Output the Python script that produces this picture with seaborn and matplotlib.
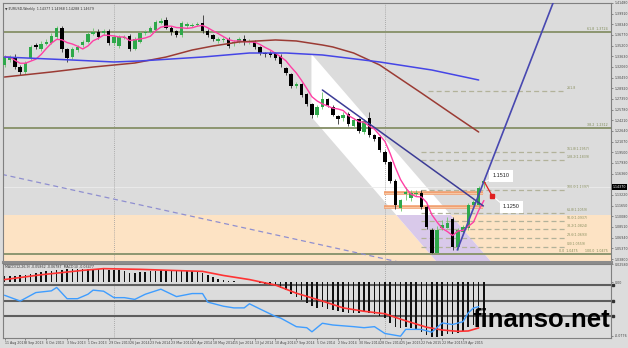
import numpy as np
import pandas as pd
import matplotlib
matplotlib.use("Agg")
import matplotlib.pyplot as plt
from matplotlib.patches import Polygon, Rectangle
import seaborn as sns

# ---------------- data (EURUSD weekly) ----------------
opens = [1.3234,1.3307,1.3351,1.3204,1.3131,1.3337,1.3528,1.3469,1.3543,1.3557,
         1.3646,1.3778,1.3469,1.3351,1.3454,1.3528,1.3572,1.3690,1.3720,1.3705,
         1.3734,1.3557,1.3513,1.3631,1.3661,1.3469,1.3572,1.3705,1.3720,1.3749,
         1.3852,1.3896,1.3778,1.3734,1.3675,1.3808,1.3808,1.3822,1.3852,1.3734,
         1.3675,1.3587,1.3602,1.3616,1.3557,1.3572,1.3616,1.3572,1.3572,1.3499,
         1.3410,1.3410,1.3410,1.3366,1.3190,1.3101,1.2925,1.2954,1.2807,1.2660,
         1.2499,1.2616,1.2734,1.2616,1.2484,1.2455,1.2513,1.2337,1.2440,1.2249,
         1.2455,1.2205,1.2176,1.1955,1.1808,1.1528,1.1130,1.1336,1.1277,1.1336,
         1.1351,1.1145,1.0807,1.0469,1.0836,1.0836,1.0968,1.0557,1.0777,1.0836,
         1.1175,1.1175,1.1499]
closes = [1.3351,1.3351,1.3204,1.3131,1.3263,1.3499,1.3499,1.3543,1.3572,1.3661,
          1.3778,1.3469,1.3337,1.3469,1.3499,1.3572,1.3690,1.3720,1.3646,1.3734,
          1.3557,1.3646,1.3646,1.3646,1.3469,1.3616,1.3705,1.3720,1.3778,1.3867,
          1.3881,1.3778,1.3720,1.3675,1.3852,1.3837,1.3822,1.3837,1.3734,1.3675,
          1.3616,1.3616,1.3616,1.3513,1.3572,1.3616,1.3572,1.3587,1.3499,1.3410,
          1.3396,1.3381,1.3337,1.3249,1.3116,1.2925,1.2954,1.2793,1.2660,1.2499,
          1.2616,1.2734,1.2646,1.2499,1.2440,1.2499,1.2367,1.2425,1.2264,1.2411,
          1.2205,1.2146,1.1984,1.1808,1.1528,1.1175,1.1248,1.1366,1.1351,1.1351,
          1.1145,1.0851,1.0469,1.0807,1.0880,1.0909,1.0557,1.0807,1.0851,1.1175,
          1.1219,1.1425,1.1528]
highs = [1.338,1.338,1.339,1.323,1.329,1.353,1.356,1.358,1.361,1.370,
         1.381,1.381,1.348,1.350,1.353,1.360,1.372,1.378,1.376,1.377,
         1.377,1.368,1.368,1.367,1.369,1.364,1.373,1.375,1.381,1.390,
         1.393,1.394,1.380,1.375,1.388,1.386,1.385,1.386,1.397,1.376,
         1.369,1.364,1.364,1.364,1.360,1.365,1.367,1.361,1.360,1.352,
         1.343,1.344,1.343,1.339,1.321,1.312,1.298,1.297,1.282,1.268,
         1.264,1.284,1.275,1.264,1.250,1.254,1.254,1.245,1.246,1.244,
         1.254,1.222,1.220,1.198,1.182,1.155,1.127,1.144,1.140,1.140,
         1.139,1.117,1.083,1.086,1.096,1.100,1.100,1.083,1.088,1.120,
         1.125,1.145,1.153]
lows = [1.320,1.328,1.317,1.308,1.310,1.331,1.347,1.344,1.353,1.354,
        1.362,1.343,1.328,1.332,1.343,1.350,1.355,1.367,1.362,1.368,
        1.353,1.353,1.349,1.361,1.344,1.345,1.355,1.368,1.370,1.372,
        1.384,1.376,1.368,1.365,1.365,1.378,1.379,1.380,1.371,1.365,
        1.358,1.355,1.357,1.348,1.352,1.355,1.353,1.354,1.347,1.338,
        1.335,1.335,1.330,1.321,1.308,1.289,1.290,1.276,1.263,1.246,
        1.247,1.259,1.262,1.248,1.236,1.241,1.234,1.231,1.223,1.222,
        1.218,1.212,1.196,1.178,1.150,1.111,1.108,1.125,1.124,1.131,
        1.111,1.082,1.0462,1.0466,1.080,1.083,1.051,1.051,1.076,1.081,
        1.117,1.112,1.142]

# long moving averages
brown_idx = [0, 9, 17, 25, 31, 36, 40, 45, 52, 56, 61, 63, 67, 72, 80, 87, 91]
brown_val = [1.3057, 1.3131, 1.3204, 1.3263, 1.3351, 1.3454, 1.3513, 1.3572, 1.3602,
             1.3587, 1.3528, 1.3499, 1.3410, 1.3234, 1.2822, 1.2455, 1.2248]
blue_idx = [0, 13, 21, 26, 38, 47, 54, 61, 72, 82, 91]
blue_val = [1.3351, 1.3307, 1.3278, 1.3293, 1.3351, 1.3410, 1.3410, 1.3381, 1.3278, 1.3160, 1.3013]

# MACD panel
macd_hist = [0.0084,0.0084,0.0089,0.0094,0.0104,0.0118,0.0133,0.0143,0.0153,0.0162,
             0.0172,0.0177,0.0182,0.0182,0.0187,0.0192,0.0192,0.0192,0.0192,0.0187,
             0.0177,0.0172,0.0167,0.0153,0.0133,0.0133,0.0138,0.0148,0.0153,0.0157,
             0.0167,0.0167,0.0157,0.0153,0.0153,0.0157,0.0162,0.0157,0.0133,0.0104,
             0.0074,0.0050,0.0035,0.0020,0.0010,0.0005,0.0001,0.0001,-0.0004,-0.0014,
             -0.0024,-0.0039,-0.0058,-0.0083,-0.0122,-0.0166,-0.0210,-0.0255,-0.0299,-0.0348,
             -0.0372,-0.0358,-0.0387,-0.0402,-0.0416,-0.0436,-0.0446,-0.0446,-0.0446,-0.0431,
             -0.0441,-0.0465,-0.0495,-0.0524,-0.0583,-0.0642,-0.0662,-0.0647,-0.0657,-0.0681,
             -0.0721,-0.0765,-0.0789,-0.0789,-0.0770,-0.0745,-0.0750,-0.0730,-0.0701,-0.0652,
             -0.0618,-0.0593,-0.0568]
sig_idx = [0, 7, 15, 19, 26, 32, 38, 42, 47, 52, 56, 61, 65, 69, 73, 76, 81, 84, 87, 89, 91]
sig_val = [0.0035, 0.0104, 0.0167, 0.0192, 0.0182, 0.0167, 0.0153, 0.0094, 0.0035, -0.0044,
           -0.0161, -0.0274, -0.0372, -0.0421, -0.0456, -0.0534, -0.0650, -0.0690, -0.0709,
           -0.0704, -0.0660]
osc_idx = [0, 3, 6, 9, 10, 12, 14, 16, 17, 19, 21, 23, 25, 27, 30, 33, 36, 38, 39, 42,
           44, 46, 47, 49, 52, 53, 56, 58, 59, 61, 63, 67, 69, 71, 73, 76, 77, 80, 82, 84,
           86, 88, 89, 90, 91]
osc_val = [-0.0191, -0.0274, -0.0152, -0.0127, -0.0078, -0.0240, -0.0240, -0.0176, -0.0117, -0.0132,
           -0.0225, -0.0225, -0.0250, -0.0176, -0.0103, -0.0210, -0.0166, -0.0166, -0.0289, -0.0348,
           -0.0372, -0.0372, -0.0313, -0.0387, -0.0495, -0.0519, -0.0642, -0.0657, -0.0716, -0.0593,
           -0.0618, -0.0642, -0.0657, -0.0642, -0.0740, -0.0779, -0.0681, -0.0681, -0.0721, -0.0589,
           -0.0611, -0.0570, -0.0445, -0.0374, -0.0355]
osc_levels = [-0.0043, -0.0269, -0.0489]

# drawing objects
olive_levels = [1.3724, 1.2312, 1.0455]
olive_labels = ["61.8  1.3724", "38.2  1.2312", "100.0  1.0475"]
fib_prices = [1.2851, 1.1954, 1.1836, 1.1395, 1.1057, 1.0939, 1.0822, 1.0690, 1.0557]
fib_labels = ["261.8", "161.8(1.1957)", "138.2(1.1839)", "100.0(1.1397)", "61.8(1.1059)",
              "50.0(1.0937)", "38.2(1.0824)", "23.6(1.0693)", "0.0(1.0559)"]
orange_levels = [1.1351, 1.1145]
channel_i = [58.9, 58.9, 95.0, 95.0]
channel_p = [1.3396, 1.2469, 0.9271, 1.0198]
zone_top = 1.1020
trend1_i, trend1_p = [61.0, 91.9], [1.2866, 1.1160]
trend2_i, trend2_p = [86.9, 105.5], [1.0513, 1.4190]
dash_i, dash_p = [-0.5, 76.0], [1.1625, 1.0330]
target_up, target_dn = 1.1510, 1.1250
last_price = 1.1437

price_ticks = [1.0380,1.0537,1.0694,1.0851,1.1008,1.1165,1.1322,1.1479,1.1636,1.1793,
               1.1950,1.2107,1.2264,1.2421,1.2578,1.2735,1.2892,1.3049,1.3206,1.3363,
               1.3520,1.3677,1.3834,1.3991,1.4148]
date_idx = list(range(0, 92, 4))
date_labels = ["11 Aug 2013","8 Sep 2013","6 Oct 2013","3 Nov 2013","1 Dec 2013","29 Dec 2013",
               "26 Jan 2014","23 Feb 2014","23 Mar 2014","20 Apr 2014","18 May 2014","15 Jun 2014",
               "13 Jul 2014","10 Aug 2014","7 Sep 2014","5 Oct 2014","2 Nov 2014","30 Nov 2014",
               "28 Dec 2014","25 Jan 2015","22 Feb 2015","22 Mar 2015","19 Apr 2015"]
separators = [21, 73]

# ---------------- style ----------------
BG = "#dcdcdc"
sns.set_style("white", {"axes.facecolor": BG, "figure.facecolor": BG})
plt.rcParams['font.family'] = ['DejaVu Sans']

W, H = 628, 348
fig = plt.figure(figsize=(W / 100, H / 100), dpi=100, facecolor=BG)
ax = fig.add_axes([3 / W, (H - 262) / H, 608 / W, (262 - 2.7) / H])
ax2 = fig.add_axes([3 / W, (H - 338) / H, 608 / W, (338 - 263.5) / H])
XMIN = -0.3
XMAX = XMIN + 608 / 5.21
YLO, YHI = 1.0336, 1.4150
for a in (ax, ax2):
    a.set_facecolor(BG)
    a.set_xlim(XMIN, XMAX)
    for s in a.spines.values():
        s.set_color("#808080")
        s.set_linewidth(0.8)
ax.set_ylim(YLO, YHI)
ax2.set_ylim(-0.0805, 0.0266)
ax.spines['bottom'].set_linewidth(2.2)
ax.spines['bottom'].set_color("#8c8c8c")

df = pd.DataFrame({"i": np.arange(len(closes)), "open": opens, "high": highs,
                   "low": lows, "close": closes})
df["ma5"] = df["close"].rolling(5, min_periods=1).mean()
up = df["close"] >= df["open"]
dn = ~up

# --- background objects ---
zone = Rectangle((XMIN - 5, 1.0), XMAX - XMIN + 10, zone_top - 1.0, facecolor="#fde3c4",
                 edgecolor="none", linewidth=0, zorder=0.5)
ax.add_patch(zone)
chan_pts = list(zip(channel_i, channel_p))
ax.add_patch(Polygon(chan_pts, closed=True, facecolor="white", edgecolor="none",
                     linewidth=0, zorder=0.6))
lav = Polygon(chan_pts, closed=True, facecolor="#d9c9ea", edgecolor="none", linewidth=0,
              zorder=0.7)
ax.add_patch(lav)
lav.set_clip_path(zone)

ax.axhline(last_price, color="#ececec", lw=0.6, zorder=0.8)
for s in separators:
    ax.axvline(s, color="#9a9a9a", ls=(0, (1, 1.5)), lw=0.6, zorder=0.8)
    ax2.axvline(s, color="#9a9a9a", ls=(0, (1, 1.5)), lw=0.6, zorder=0.8)

for p, lab in zip(olive_levels, olive_labels):
    ax.axhline(p, color="#8c9670", lw=1.4, zorder=1)
    ax.text(XMAX - 0.6, p + 0.0012, lab, fontsize=2.3, color="#7d8a55", ha="right", va="bottom")
ax.text(106.5, olive_levels[2] + 0.0012, "0.0  1.0475", fontsize=2.3, color="#7d8a55",
        ha="left", va="bottom")

for k, (p, lab) in enumerate(zip(fib_prices, fib_labels)):
    x0 = 81.3 if k == 0 else 80.0
    ax.hlines(p, x0, 107.6, color="#b2b29a", lw=0.9, linestyles=(0, (4, 2.5)), zorder=1)
    ax.text(107.9, p + 0.001, lab, fontsize=2.3, color="#8a9060", ha="left", va="bottom")

ax.plot(dash_i, dash_p, color="#8f8fd0", lw=0.9, ls=(0, (4, 3)), zorder=1.2)
ax.hlines(orange_levels, 72.9, 91.9, color="#f2a070", lw=2.6, zorder=1.3)
ax.hlines(orange_levels, 72.9, 91.9, color="#f8c9a6", lw=0.7, zorder=1.35)

# --- candles ---
ax.vlines(df.loc[up, "i"], df.loc[up, "low"], df.loc[up, "high"], color="#6cc46c", lw=0.6, zorder=2)
ax.vlines(df.loc[dn, "i"], df.loc[dn, "low"], df.loc[dn, "high"], color="#303030", lw=0.6, zorder=2)
ax.bar(df.loc[up, "i"], (df.loc[up, "close"] - df.loc[up, "open"]).clip(lower=0.0008),
       bottom=df.loc[up, "open"], width=0.66, color="#2ea84a", edgecolor="none",
       linewidth=0, zorder=3)
ax.bar(df.loc[dn, "i"], (df.loc[dn, "open"] - df.loc[dn, "close"]).clip(lower=0.0008),
       bottom=df.loc[dn, "close"], width=0.66, color="#000000", edgecolor="none",
       linewidth=0, zorder=3)

# --- moving averages ---
sns.lineplot(data=df, x="i", y="ma5", ax=ax, color="#ff3fa4", lw=1.0, zorder=4)
sns.lineplot(x=brown_idx, y=brown_val, ax=ax, color="#9b3b34", lw=1.1, zorder=4)
sns.lineplot(x=blue_idx, y=blue_val, ax=ax, color="#4545e6", lw=1.1, zorder=4)

# --- trend lines and targets ---
ax.plot(trend1_i, trend1_p, color="#3c3c96", lw=1.1, zorder=5)
ax.plot(trend2_i, trend2_p, color="#4848b0", lw=1.2, zorder=5)
ax.plot([92.1, 93.6], [1.1513, 1.1307], color="#e02020", lw=0.9, zorder=6)
ax.plot([93.6], [1.1307], marker="s", ms=2.2, color="#e02020", zorder=6)
ax.plot([92.2, 94.2], [1.1513, 1.1590], color="white", lw=0.8, zorder=5.5)
ax.plot([93.7, 95.6], [1.1305, 1.1180], color="white", lw=0.8, zorder=5.5)
box = dict(boxstyle="square,pad=0.6", fc="white", ec="none")
ax.text(95.3, 1.1601, f"{target_up:.4f}", fontsize=4, family="Liberation Sans", color="#222",
        ha="center", va="center", bbox=box, zorder=7)
ax.text(97.3, 1.1145, f"{target_dn:.4f}", fontsize=4, family="Liberation Sans", color="#222",
        ha="center", va="center", bbox=box, zorder=7)

# --- axes / ticks main ---
ax.set_xticks([])
ax.set_xlabel("")
ax.set_ylabel("")
ax.yaxis.tick_right()
ax.set_yticks(price_ticks)
ax.set_yticklabels(["" if abs(v - last_price) < 0.006 else f"{v:.5f}" for v in price_ticks])
ax.tick_params(axis="y", right=True, length=1.5, width=0.4, labelsize=2.3, pad=1,
               colors="#444444")
ax.text(1.003, (last_price - YLO) / (YHI - YLO), f"{last_price:.5f}",
        transform=ax.transAxes, fontsize=2.3, color="white", ha="left", va="center",
        bbox=dict(boxstyle="square,pad=0.35", fc="black", ec="none"), zorder=8)
ax.text(0.004, 0.985, "\u25bc EURUSD,Weekly  1.14377 1.14968 1.14288 1.14679", transform=ax.transAxes,
        fontsize=2.3, color="#333333", ha="left", va="top")

# --- MACD panel ---
ax2.bar(df["i"], macd_hist, width=0.3, color="#111111", edgecolor="none", linewidth=0, zorder=2)
for lv in osc_levels:
    ax2.axhline(lv, color="#5e5e5e", lw=1.5, zorder=1.5)
ax2.plot([XMAX + 0.35] * 3, osc_levels, "s", ms=1.8, color="#333333", clip_on=False, zorder=6)
sns.lineplot(x=sig_idx, y=sig_val, ax=ax2, color="#ff3333", lw=1.2, zorder=4)
sns.lineplot(x=osc_idx, y=osc_val, ax=ax2, color="#3f9dff", lw=1.0, zorder=4)
ax2.set_xlabel("")
ax2.set_ylabel("")
ax2.set_xticks(date_idx)
ax2.set_xticklabels(date_labels, ha="left")
ax2.tick_params(axis="x", bottom=True, length=1.2, width=0.4, labelsize=2.3, pad=1,
                colors="#444444")
ax2.yaxis.tick_right()
ax2.set_yticks([0.0258, 0.0, -0.0776])
ax2.set_yticklabels(["0.02580", "0.00", "-0.0776"])
ax2.tick_params(axis="y", right=True, length=1.5, width=0.4, labelsize=2.3, pad=1,
                colors="#444444")
ax2.text(0.004, 0.975, "MACD(12,26,9) -0.05862 -0.06787  MACD(4) -0.03477", transform=ax2.transAxes,
         fontsize=2.3, color="#333333", ha="left", va="top")

fig.text(472 / W, (H - 327) / H, "finanso.net", fontsize=18.5, fontweight="bold",
         family="Liberation Sans", color="black", ha="left", va="baseline")

fig.savefig("out.png", dpi=100, facecolor=BG)
